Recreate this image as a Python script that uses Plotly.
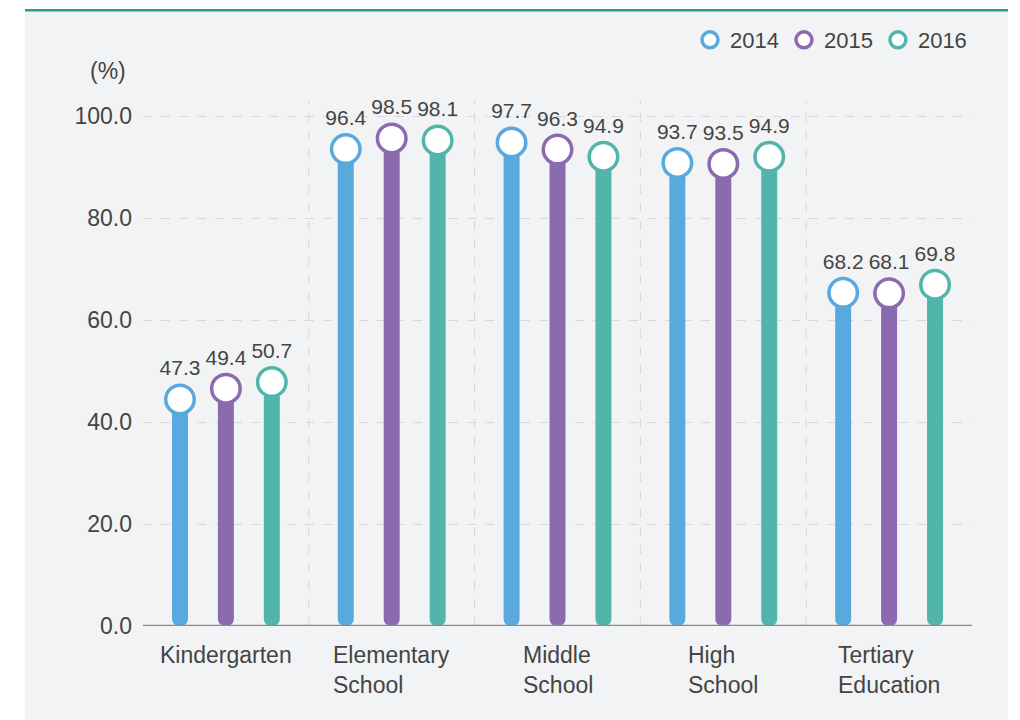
import plotly.graph_objects as go

categories = ["Kindergarten", "Elementary<br>School", "Middle<br>School", "High<br>School", "Tertiary<br>Education"]
years = ["2014", "2015", "2016"]
values_2014 = [47.3, 96.4, 97.7, 93.7, 68.2]
values_2015 = [49.4, 98.5, 96.3, 93.5, 68.1]
values_2016 = [50.7, 98.1, 94.9, 94.9, 69.8]
y_ticks = [0, 20, 40, 60, 80, 100]

series = [values_2014, values_2015, values_2016]
colors = ["#5aa9de", "#8c6aaf", "#51b5aa"]
FONT = "Liberation Sans, Arial, sans-serif"
TXT = "#444444"

# page is offset by 8px body margin
W, H = 1020, 720
ML, MR, MT, MB = 135, 56, 92, 102
plot_h = H - MT - MB
plot_w = W - ML - MR
y_top_val = 103.0
px_per_unit = plot_h / y_top_val
r_px = 14.5
off = r_px / px_per_unit
bar_r_px = 8

xs = list(range(len(categories)))
fig = go.Figure()

for yr, vals, c in zip(years, series, colors):
    tops = [v - off for v in vals]
    fig.add_trace(go.Bar(
        x=xs, y=[-t for t in tops], base=tops,
        marker=dict(color=c, cornerradius=bar_r_px, line=dict(width=0)),
        offsetgroup=yr, showlegend=False, hoverinfo="skip",
    ))

for yr, vals, c in zip(years, series, colors):
    fig.add_trace(go.Scatter(
        x=xs, y=[v - off for v in vals], mode="markers+text",
        text=[f"{v:.1f}" for v in vals], textposition="top center",
        textfont=dict(size=21, color=TXT, family=FONT),
        marker=dict(size=28.5, color="white", line=dict(color=c, width=3.5)),
        offsetgroup=yr, name=yr, cliponaxis=False,
    ))

# panel background
x0 = -(ML - 17) / plot_w
x1 = (1000 - ML) / plot_w
y_top = (H - MB) / plot_h
y_bot = -MB / plot_h
shapes = [
    dict(type="rect", xref="paper", yref="paper", x0=x0, x1=x1, y0=y_bot, y1=y_top,
         fillcolor="#f2f3f5", line=dict(width=0), layer="below"),
    dict(type="line", xref="paper", yref="paper", x0=x0, x1=x1, y0=y_top - 1 / plot_h, y1=y_top - 1 / plot_h,
         line=dict(color="#2a9e8b", width=2.5), layer="below"),
]
for i in range(len(categories) - 1):
    shapes.append(dict(type="line", xref="x", yref="y", x0=i + 0.5, x1=i + 0.5, y0=0, y1=y_top_val,
                       line=dict(color="#d4d6d9", width=1, dash="dash"), layer="below"))
shapes.append(dict(type="line", xref="paper", yref="y", x0=0, x1=1, y0=0, y1=0,
                   line=dict(color="#8a8a8a", width=2.5), layer="above"))

annotations = [
    dict(text="(%)", xref="paper", yref="paper", x=(100 - ML) / plot_w, y=(H - MB - 62) / plot_h,
         showarrow=False, font=dict(size=23, color=TXT), xanchor="center", yanchor="middle"),
]
for i, cat in enumerate(categories):
    annotations.append(dict(text=cat, xref="x", yref="paper", x=i, y=-14 / plot_h, showarrow=False,
                            align="left", xanchor="center", yanchor="top",
                            font=dict(size=23, color=TXT)))

fig.update_layout(
    width=W, height=H,
    margin=dict(l=ML, r=MR, t=MT, b=MB),
    paper_bgcolor="white", plot_bgcolor="rgba(0,0,0,0)",
    font=dict(family=FONT, color=TXT),
    barmode="group", bargap=0.169, bargroupgap=0.652,
    scattermode="group", scattergap=0.169,
    shapes=shapes, annotations=annotations,
    legend=dict(orientation="h", x=1.0, xanchor="right", y=(H - MB - 32) / plot_h, yanchor="middle",
                font=dict(size=22, color=TXT), bgcolor="rgba(0,0,0,0)",
                itemwidth=30, traceorder="normal"),
    xaxis=dict(range=[-0.5, len(categories) - 0.5], showticklabels=False, showgrid=False,
               zeroline=False, showline=False, fixedrange=True),
    yaxis=dict(range=[0, y_top_val], tickvals=y_ticks, tickformat=".1f", showgrid=True,
               gridcolor="#d6d8db", griddash="dash", gridwidth=1, zeroline=False, showline=False,
               ticks="", tickfont=dict(size=23, color=TXT), ticklabelstandoff=10),
)

fig.write_html("out.html")
